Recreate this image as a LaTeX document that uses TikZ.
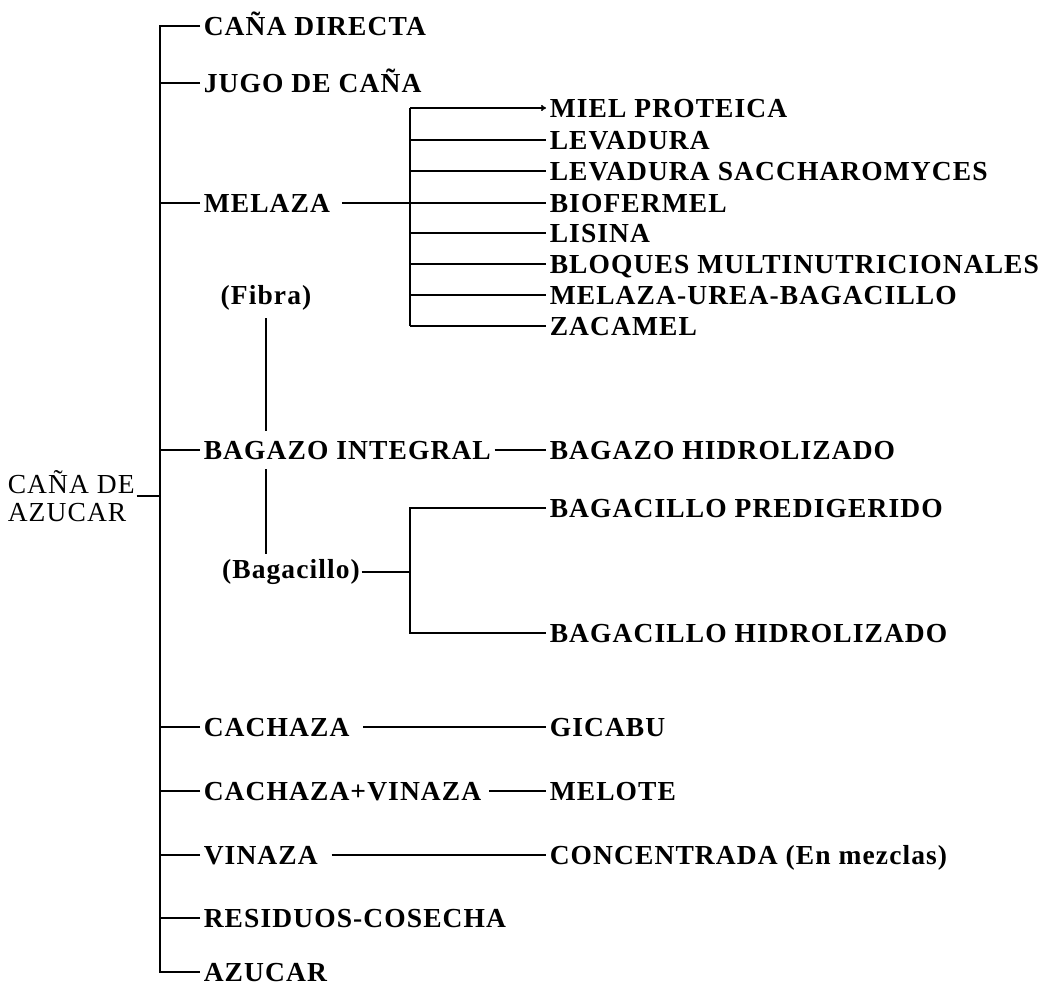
\documentclass[tikz,border=0pt]{standalone}
\usepackage{fontspec}
\setmainfont{Liberation Serif}[LetterSpace=4]
\usetikzlibrary{arrows.meta}
\begin{document}
\begin{tikzpicture}[x=1pt,y=-1pt,
  line width=1.6pt,
  lbl/.style={anchor=west,inner xsep=3pt,inner ysep=0pt,text height=18.5pt,text depth=0pt,
              font=\fontsize{27.5}{30}\selectfont\bfseries},
  par/.style={inner sep=1pt,font=\fontsize{27.5}{30}\selectfont\bfseries},
  rootlbl/.style={anchor=west,align=left,inner sep=1pt,
              font=\fontsize{27.5}{28}\selectfont}]
\useasboundingbox (0,0) rectangle (1046,990);

% main spine
\coordinate (sp) at (160,0);
% second-level bracket column
\coordinate (mb) at (410,0);

\node[rootlbl] (root) at (6,496) {CAÑA DE\\AZUCAR};

\node[lbl] (directa) at (200,26) {CAÑA DIRECTA};
\node[lbl] (jugo)    at (200,83) {JUGO DE CAÑA};
\node[lbl] (melaza)  at (200,203) {MELAZA};
\node[lbl] (bagazo)  at (200,450) {BAGAZO INTEGRAL};
\node[lbl] (cachaza) at (200,727) {CACHAZA};
\node[lbl] (cachvin) at (200,791) {CACHAZA+VINAZA};
\node[lbl] (vinaza)  at (200,855) {VINAZA};
\node[lbl] (residuos) at (200,918) {RESIDUOS-COSECHA};
\node[lbl] (azucar)  at (200,972) {AZUCAR};

% products of melaza
\node[lbl] (miel)    at (546,108) {MIEL PROTEICA};
\node[lbl] (lev)     at (546,140) {LEVADURA};
\node[lbl] (levs)    at (546,171) {LEVADURA SACCHAROMYCES};
\node[lbl] (biof)    at (546,203) {BIOFERMEL};
\node[lbl] (lisina)  at (546,233) {LISINA};
\node[lbl] (bloques) at (546,264) {BLOQUES MULTINUTRICIONALES};
\node[lbl] (mub)     at (546,295) {MELAZA-UREA-BAGACILLO};
\node[lbl] (zacamel) at (546,326) {ZACAMEL};

% bagazo
\node[par] (fibra) at (266,298) {(Fibra)};
\node[par] (bagacillo) at (291,572) {(Bagacillo)};
\node[lbl] (bhid)  at (546,450) {BAGAZO HIDROLIZADO};
\node[lbl] (bpre)  at (546,508) {BAGACILLO PREDIGERIDO};
\node[lbl] (bchid) at (546,633) {BAGACILLO HIDROLIZADO};

% other products
\node[lbl] (gicabu)  at (546,727) {GICABU};
\node[lbl] (melote)  at (546,791) {MELOTE};
\node[lbl] (conc)    at (546,855) {CONCENTRADA (En mezclas)};

% spine with its two end corners
\draw (directa.west) -| (sp |- root.east) |- (azucar.west);
\draw (root.east) -- (root.east -| sp);
\foreach \n in {jugo,melaza,bagazo,cachaza,cachvin,vinaza,residuos}
  \draw (\n.west) -- (\n.west -| sp);

% melaza bracket
\draw ([xshift=8pt]melaza.east) -- (melaza.east -| mb);
\draw (mb |- miel.west) -- (mb |- zacamel.west);
\draw[-{To[length=5pt,width=6pt]}] (mb |- miel.west) -- (miel.west);
\foreach \n in {lev,levs,biof,lisina,bloques,mub,zacamel}
  \draw (mb |- \n.west) -- (\n.west);

% bagazo branches
\draw ([yshift=-6pt]fibra.south) -- ([yshift=9pt]fibra.south |- bagazo.north);
\draw ([yshift=-9pt]fibra.south |- bagazo.south) -- ([yshift=4pt]fibra.south |- bagacillo.north);
\draw (bagazo.east) -- (bhid.west);
\draw (bagacillo.east) -- (bagacillo.east -| mb);
\draw (bpre.west) -| (mb |- bchid.west) -- (bchid.west);

% cachaza and vinaza branches
\draw ([xshift=10pt]cachaza.east) -- (gicabu.west);
\draw ([xshift=4pt]cachvin.east) -- (melote.west);
\draw ([xshift=10pt]vinaza.east) -- (conc.west);
\end{tikzpicture}
\end{document}
